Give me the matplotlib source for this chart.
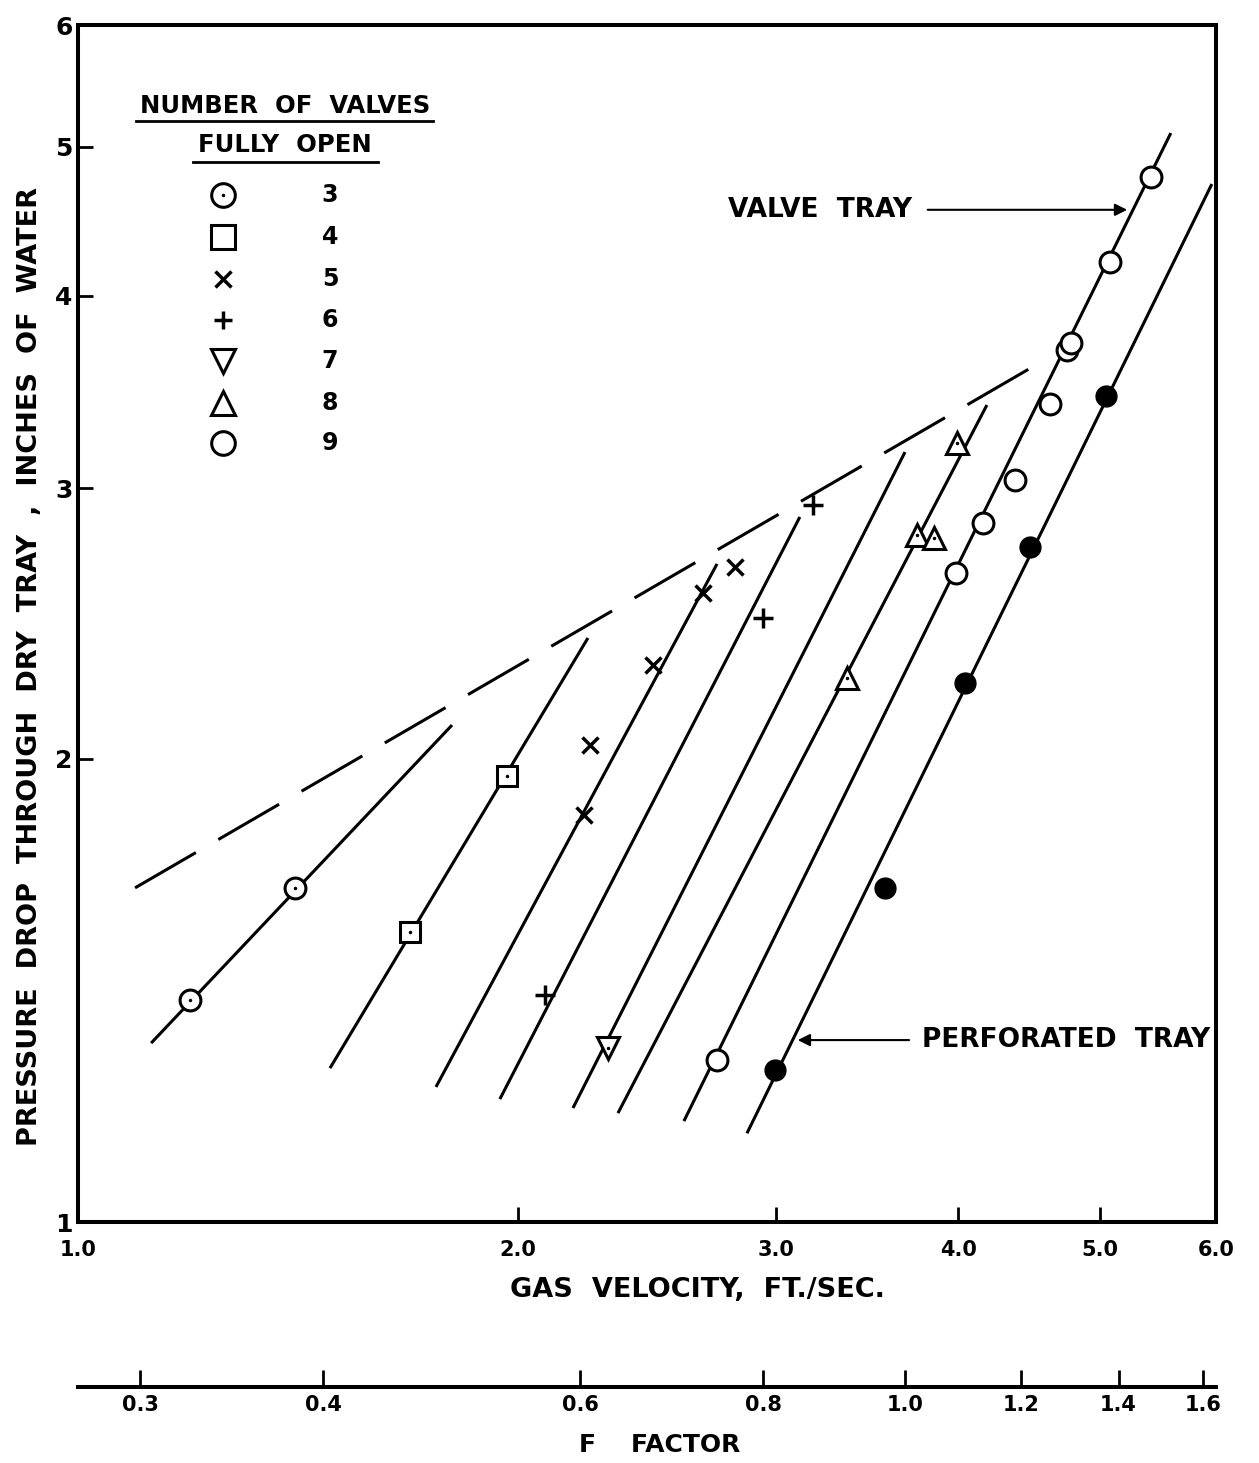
import matplotlib.pyplot as plt
from matplotlib.ticker import FixedLocator, FixedFormatter, NullLocator

plt.rcParams['font.family'] = ['DejaVu Sans']
plt.rcParams['font.weight'] = 'bold'

# ---- data (gas velocity ft/s, pressure drop in. water) ----
v3 = [1.193, 1.407]
p3 = [1.394, 1.649]
v4 = [1.687, 1.965]
p4 = [1.544, 1.950]
v5 = [2.218, 2.239, 2.472, 2.675, 2.813]
p5 = [1.839, 2.042, 2.302, 2.564, 2.665]
v6 = [2.086, 2.940, 3.181]
p6 = [1.405, 2.470, 2.925]
v7 = [2.303]
p7 = [1.297]
v8 = [3.356, 3.747, 3.848, 3.990]
p8 = [2.257, 2.796, 2.784, 3.209]
v9 = [2.735, 3.984, 4.157, 4.372, 4.619, 4.745, 4.775, 5.077, 5.415]
p9 = [1.274, 2.642, 2.847, 3.036, 3.402, 3.689, 3.727, 4.208, 4.778]
v_perf = [2.996, 3.562, 4.041, 4.476, 5.045]
p_perf = [1.255, 1.649, 2.241, 2.746, 3.443]

# fitted lines (start, end)
lines_v = [[1.122, 1.802], [1.487, 2.232], [1.757, 2.735], [1.943, 3.116],
           [2.180, 3.677], [2.340, 4.183], [2.596, 5.588], [2.867, 5.961]]
lines_p = [[1.307, 2.104], [1.259, 2.397], [1.224, 2.678], [1.202, 2.873],
           [1.186, 3.166], [1.177, 3.397], [1.163, 5.104], [1.142, 4.729]]
dash_v = [1.094, 4.605]
dash_p = [1.649, 3.645]

x_ticks = [1.0, 2.0, 3.0, 4.0, 5.0, 6.0]
x_labels = ['1.0', '2.0', '3.0', '4.0', '5.0', '6.0']
y_ticks = [1, 2, 3, 4, 5, 6]
f_ticks = [0.3, 0.4, 0.6, 0.8, 1.0, 1.2, 1.4, 1.6]
f_labels = ['0.3', '0.4', '0.6', '0.8', '1.0', '1.2', '1.4', '1.6']
f_per_v = 0.272

legend_labels = ['3', '4', '5', '6', '7', '8', '9']

W, H = 1259, 1463
fig = plt.figure(figsize=(W / 100, H / 100), dpi=100)
ax = fig.add_axes([78 / W, 1 - 1222 / H, 1138 / W, 1197 / H])
ax.set_xscale('log')
ax.set_yscale('log')
ax.set_xlim(1, 6)
ax.set_ylim(1, 6)
for s in ax.spines.values():
    s.set_linewidth(2.9)

ax.xaxis.set_major_locator(FixedLocator(x_ticks))
ax.xaxis.set_major_formatter(FixedFormatter(x_labels))
ax.xaxis.set_minor_locator(NullLocator())
ax.yaxis.set_major_locator(FixedLocator(y_ticks))
ax.yaxis.set_major_formatter(FixedFormatter([str(t) for t in y_ticks]))
ax.yaxis.set_minor_locator(NullLocator())
ax.tick_params(direction='in', length=11, width=2, top=False, right=False)
ax.tick_params(axis='x', labelsize=15, pad=13)
ax.tick_params(axis='y', labelsize=18, pad=4)

# lines
for lv, lp in zip(lines_v, lines_p):
    ax.plot(lv, lp, color='k', lw=2.2, solid_capstyle='butt')
ax.plot(dash_v, dash_p, color='k', lw=2.2, linestyle=(0, (23, 8.5)))

# points
open_kw = dict(linestyle='none', mfc='white', mec='k', mew=2.2)
ax.plot(v3, p3, marker='o', ms=15, **open_kw)
ax.plot(v3, p3, 'k.', ms=3)
ax.plot(v4, p4, marker='s', ms=15, **open_kw)
ax.plot(v4, p4, 'k.', ms=3)
ax.plot(v5, p5, marker='x', ms=11, linestyle='none', color='k', mew=2.5)
ax.plot(v6, p6, marker='+', ms=15, linestyle='none', color='k', mew=2.5)
ax.plot(v7, p7, marker='v', ms=16, **open_kw)
ax.plot(v7, p7, 'k.', ms=3)
ax.plot(v8, p8, marker='^', ms=16, **open_kw)
ax.plot(v8, p8, 'k.', ms=3)
ax.plot(v9, p9, marker='o', ms=15, **open_kw)
ax.plot(v_perf, p_perf, marker='o', ms=15, linestyle='none', color='k')

# legend
tr = ax.transAxes
ax.text(0.182, 0.932, 'NUMBER  OF  VALVES', transform=tr, ha='center', va='center', fontsize=17.5)
ax.text(0.182, 0.900, 'FULLY  OPEN', transform=tr, ha='center', va='center', fontsize=17.5)
ax.plot([0.051, 0.312], [0.9198, 0.9198], transform=tr, color='k', lw=2)
ax.plot([0.101, 0.2636], [0.8855, 0.8855], transform=tr, color='k', lw=2)
leg_marks = [('o', True), ('s', False), ('x', False), ('+', False), ('v', False), ('^', False), ('o', False)]
row_y = [195, 237, 279, 320, 361, 403, 443]
for (m, dot), lab, py in zip(leg_marks, legend_labels, row_y):
    yy = (1222 - py) / 1197
    if m in ('x', '+'):
        ax.plot([0.1274], [yy], transform=tr, marker=m, ms=13 if m == '+' else 11,
                color='k', mew=2.5, linestyle='none')
    else:
        ax.plot([0.1274], [yy], transform=tr, marker=m, ms=17, **open_kw)
    if dot:
        ax.plot([0.1274], [yy], transform=tr, marker='.', ms=3, color='k')
    ax.text(0.2214, yy, lab, transform=tr, ha='center', va='center', fontsize=17)

# annotations
ax.text(3.717, 4.55, 'VALVE  TRAY', ha='right', va='center', fontsize=19)
ax.annotate('', xy=(5.24, 4.55), xytext=(3.794, 4.55),
            arrowprops=dict(arrowstyle='-|>', color='k', lw=1.5, mutation_scale=18))
ax.text(3.776, 1.313, 'PERFORATED  TRAY', ha='left', va='center', fontsize=19)
ax.annotate('', xy=(3.092, 1.313), xytext=(3.717, 1.313),
            arrowprops=dict(arrowstyle='-|>', color='k', lw=1.5, mutation_scale=18))

# axis titles
fig.text(697 / W, 1 - 1290 / H, 'GAS  VELOCITY,  FT./SEC.', ha='center', va='center', fontsize=19.5)
fig.text(30 / W, 1 - 666 / H, 'PRESSURE  DROP  THROUGH  DRY  TRAY  ,  INCHES  OF  WATER',
         ha='center', va='center', rotation=90, fontsize=19.5)

# F factor scale
fax = fig.add_axes([78 / W, 1 - 1387 / H, 1138 / W, 0.01])
fax.set_xscale('log')
fax.set_xlim(1 * f_per_v, 6 * f_per_v)
fax.patch.set_visible(False)
for k in ['top', 'left', 'right']:
    fax.spines[k].set_visible(False)
fax.spines['bottom'].set_linewidth(2.9)
fax.set_yticks([])
fax.xaxis.set_major_locator(FixedLocator(f_ticks))
fax.xaxis.set_major_formatter(FixedFormatter(f_labels))
fax.xaxis.set_minor_locator(NullLocator())
fax.tick_params(axis='x', direction='in', length=12, width=2, labelsize=15, pad=6)
fig.text(660 / W, 1 - 1445 / H, 'F    FACTOR', ha='center', va='center', fontsize=18)

fig.savefig('out.png', dpi=100)
